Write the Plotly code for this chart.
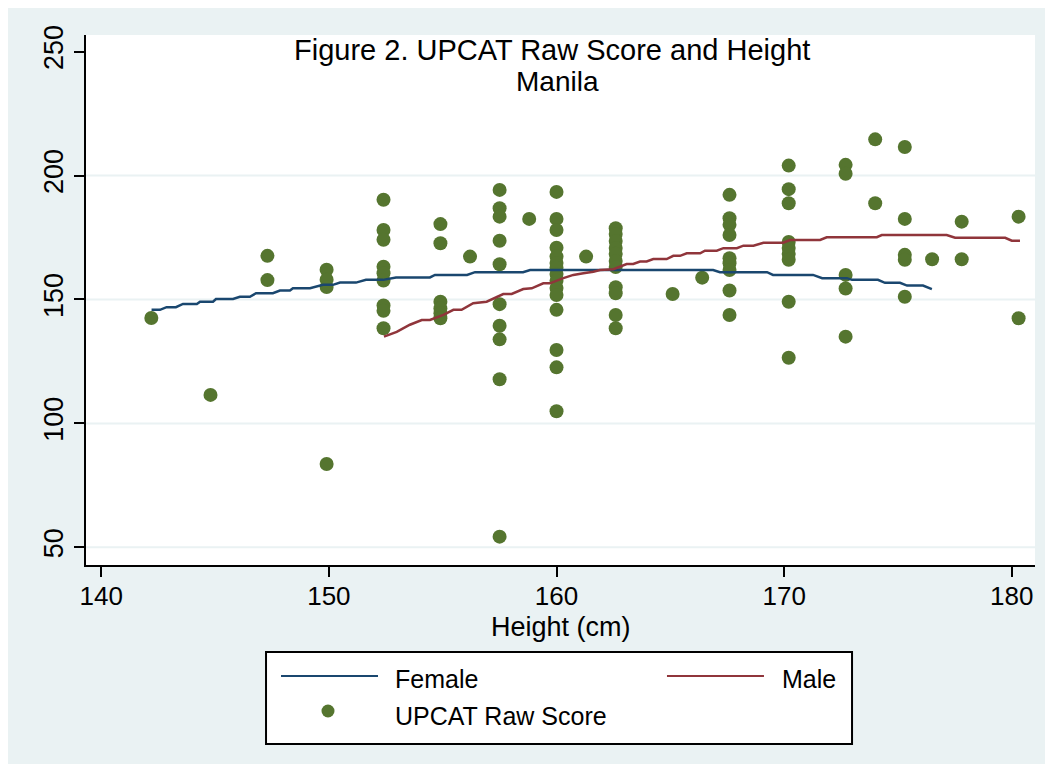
import plotly.graph_objects as go

# ---------------- data ----------------
height_cm = (
    [142.2] + [144.8] + [147.3] * 2 + [149.9] * 4 + [152.4] * 9 + [154.9] * 6 + [156.2]
    + [157.5] * 10 + [158.8] + [160.0] * 15 + [161.3] + [162.6] * 11 + [165.1] + [166.4]
    + [167.6] * 9 + [170.2] * 9 + [172.7] * 5 + [174.0] * 2 + [175.3] * 5 + [176.5]
    + [177.8] * 2 + [180.3] * 2
)
raw_score = [
    142.5,
    111.5,
    167.6, 157.8,
    162.0, 158.0, 155.0, 83.6,
    190.2, 178.0, 174.1, 163.2, 160.6, 157.6, 147.6, 145.4, 138.4,
    180.4, 172.7, 149.1, 146.4, 144.4, 142.4,
    167.3,
    194.2, 186.8, 183.4, 173.7, 164.2, 148.1, 139.4, 133.9, 117.8, 54.3,
    182.5,
    193.4, 182.5, 178.0, 170.9, 167.3, 164.7, 162.8, 160.3, 157.5, 154.6, 151.8, 145.8, 129.6, 122.6, 104.9,
    167.3,
    178.7, 176.4, 173.6, 170.8, 168.4, 165.5, 163.1, 154.9, 152.5, 143.7, 138.4,
    152.2,
    158.8,
    192.2, 182.8, 180.1, 176.0, 166.6, 164.6, 161.9, 153.6, 143.7,
    204.0, 194.5, 188.8, 173.2, 170.8, 168.4, 166.0, 149.1, 126.5,
    204.3, 200.7, 159.9, 154.4, 135.0,
    214.6, 188.8,
    211.5, 182.5, 168.0, 166.0, 151.1,
    166.2,
    181.4, 166.2,
    183.4, 142.4,
]

female_x = [142.21, 142.58, 142.87, 143.28, 143.59, 144.20, 144.34, 144.91, 145.04, 145.79,
            146.09, 146.53, 146.80, 147.54, 147.85, 148.29, 148.42, 149.17, 149.74, 150.18,
            150.49, 151.19, 151.63, 152.38, 152.95, 154.44, 154.66, 156.07, 156.42, 158.53,
            158.84, 166.88, 167.18, 169.25, 169.51, 171.27, 171.67, 172.76, 172.98, 174.12,
            174.43, 175.09, 175.40, 176.10, 176.49]
female_y = [145.8, 145.8, 146.9, 146.9, 148.2, 148.2, 149.1, 149.1, 150.2, 150.2,
            151.1, 151.1, 152.5, 152.5, 153.6, 153.6, 154.5, 154.5, 155.9, 155.9,
            156.8, 156.8, 157.9, 157.9, 158.9, 158.9, 159.9, 159.9, 161.0, 161.0,
            161.9, 161.9, 161.0, 161.0, 159.9, 159.9, 158.6, 158.6, 157.9, 157.9,
            156.7, 156.7, 155.6, 155.6, 154.2]

male_x = [152.42, 152.98, 153.56, 154.08, 154.44, 155.03, 155.47, 155.83, 156.34, 156.93,
          157.66, 158.03, 158.54, 158.91, 159.42, 159.71, 160.30, 160.74, 161.18, 161.62,
          161.91, 162.50, 163.08, 163.37, 163.67, 163.96, 164.25, 164.84, 165.13, 165.43,
          165.72, 166.31, 166.52, 167.04, 167.33, 167.92, 168.21, 168.65, 169.09, 169.96,
          170.26, 171.58, 171.87, 174.07, 174.29, 177.14, 177.51, 179.71, 180.00, 180.36]
male_y = [135.0, 136.9, 139.8, 141.7, 141.7, 143.8, 145.8, 145.8, 148.5, 149.1,
          152.2, 152.2, 154.2, 154.5, 156.5, 156.5, 158.6, 159.9, 160.6, 161.2,
          161.9, 162.2, 164.3, 164.3, 165.3, 165.3, 166.3, 166.3, 167.6, 167.6,
          168.6, 168.6, 169.7, 169.7, 170.7, 170.7, 171.7, 171.7, 172.9, 172.9,
          174.0, 174.0, 175.1, 175.1, 176.0, 176.0, 174.9, 174.9, 173.7, 173.7]

x_ticks = [140, 150, 160, 170, 180]
y_ticks = [50, 100, 150, 200, 250]

title_line1 = "Figure 2. UPCAT Raw Score and Height"
title_line2 = "Manila"
x_title = "Height (cm)"
legend_labels = ["Female", "Male", "UPCAT Raw Score"]

# ---------------- styles ----------------
NAVY = "#1A476F"
MAROON = "#90353B"
GREEN = "#55752F"
BG = "#EAF2F3"
FONT = "Liberation Sans, Arial, sans-serif"

fig = go.Figure()

fig.add_trace(go.Scatter(x=height_cm, y=raw_score, mode="markers", name=legend_labels[2],
                         marker=dict(color=GREEN, size=14, line=dict(width=0)),
                         showlegend=False))
fig.add_trace(go.Scatter(x=female_x, y=female_y, mode="lines", name=legend_labels[0],
                         line=dict(color=NAVY, width=2.5), showlegend=False))
fig.add_trace(go.Scatter(x=male_x, y=male_y, mode="lines", name=legend_labels[1],
                         line=dict(color=MAROON, width=2.5), showlegend=False))

shapes = []
# grid lines (not at the top tick)
for v in y_ticks[:-1]:
    shapes.append(dict(type="line", xref="paper", yref="y", x0=0, x1=1, y0=v, y1=v,
                       line=dict(color=BG, width=2), layer="below"))

# custom legend
shapes.append(dict(type="rect", xref="paper", yref="paper", x0=0.1897, x1=0.8072,
                   y0=-0.3377, y1=-0.1642, fillcolor="white", line=dict(color="black", width=2)))
shapes.append(dict(type="line", xref="paper", yref="paper", x0=0.2055, x1=0.3077,
                   y0=-0.2094, y1=-0.2094, line=dict(color=NAVY, width=2)))
shapes.append(dict(type="line", xref="paper", yref="paper", x0=0.6122, x1=0.7144,
                   y0=-0.2094, y1=-0.2094, line=dict(color=MAROON, width=2)))
shapes.append(dict(type="circle", xref="paper", yref="paper", xsizemode="pixel", ysizemode="pixel",
                   xanchor=0.2550, yanchor=-0.2755, x0=-6.5, x1=6.5, y0=-6.5, y1=6.5,
                   fillcolor=GREEN, line=dict(width=0)))

annotations = [
    dict(text=title_line1, xref="paper", yref="paper", x=0.491, y=0.972, showarrow=False,
         xanchor="center", yanchor="middle", font=dict(family=FONT, size=29, color="black")),
    dict(text=title_line2, xref="paper", yref="paper", x=0.497, y=0.913, showarrow=False,
         xanchor="center", yanchor="middle", font=dict(family=FONT, size=28, color="black")),
    dict(text=x_title, xref="paper", yref="paper", x=0.5005, y=-0.117, showarrow=False,
         xanchor="center", yanchor="middle", borderpad=0,
         font=dict(family=FONT, size=27, color="black")),
    dict(text=legend_labels[0], xref="paper", yref="paper", x=0.3235, y=-0.2151, showarrow=False,
         xanchor="left", yanchor="middle", font=dict(family=FONT, size=25, color="black")),
    dict(text=legend_labels[1], xref="paper", yref="paper", x=0.7313, y=-0.2151, showarrow=False,
         xanchor="left", yanchor="middle", font=dict(family=FONT, size=25, color="black")),
    dict(text=legend_labels[2], xref="paper", yref="paper", x=0.3235, y=-0.2849, showarrow=False,
         xanchor="left", yanchor="middle", font=dict(family=FONT, size=25, color="black")),
]

fig.update_layout(
    width=1037, height=756,
    margin=dict(l=78, r=10, t=27, b=199, autoexpand=False),
    paper_bgcolor=BG, plot_bgcolor="white",
    shapes=shapes, annotations=annotations,
    showlegend=False,
    font=dict(family=FONT, color="black"),
    xaxis=dict(range=[139.33, 181.02], tickvals=x_ticks, ticks="outside", ticklen=10,
               tickwidth=2, tickcolor="black", showline=True, linecolor="black", linewidth=2,
               showgrid=False, zeroline=False, tickfont=dict(size=26, family=FONT),
               ticklabelstandoff=-3),
    yaxis=dict(range=[42.86, 256.7], tickvals=y_ticks, ticks="outside", ticklen=10,
               tickwidth=2, tickcolor="black", showline=True, linecolor="black", linewidth=2,
               showgrid=False, zeroline=False, tickangle=-90,
               tickfont=dict(size=27, family=FONT)),
)

fig.write_html("out.html")
